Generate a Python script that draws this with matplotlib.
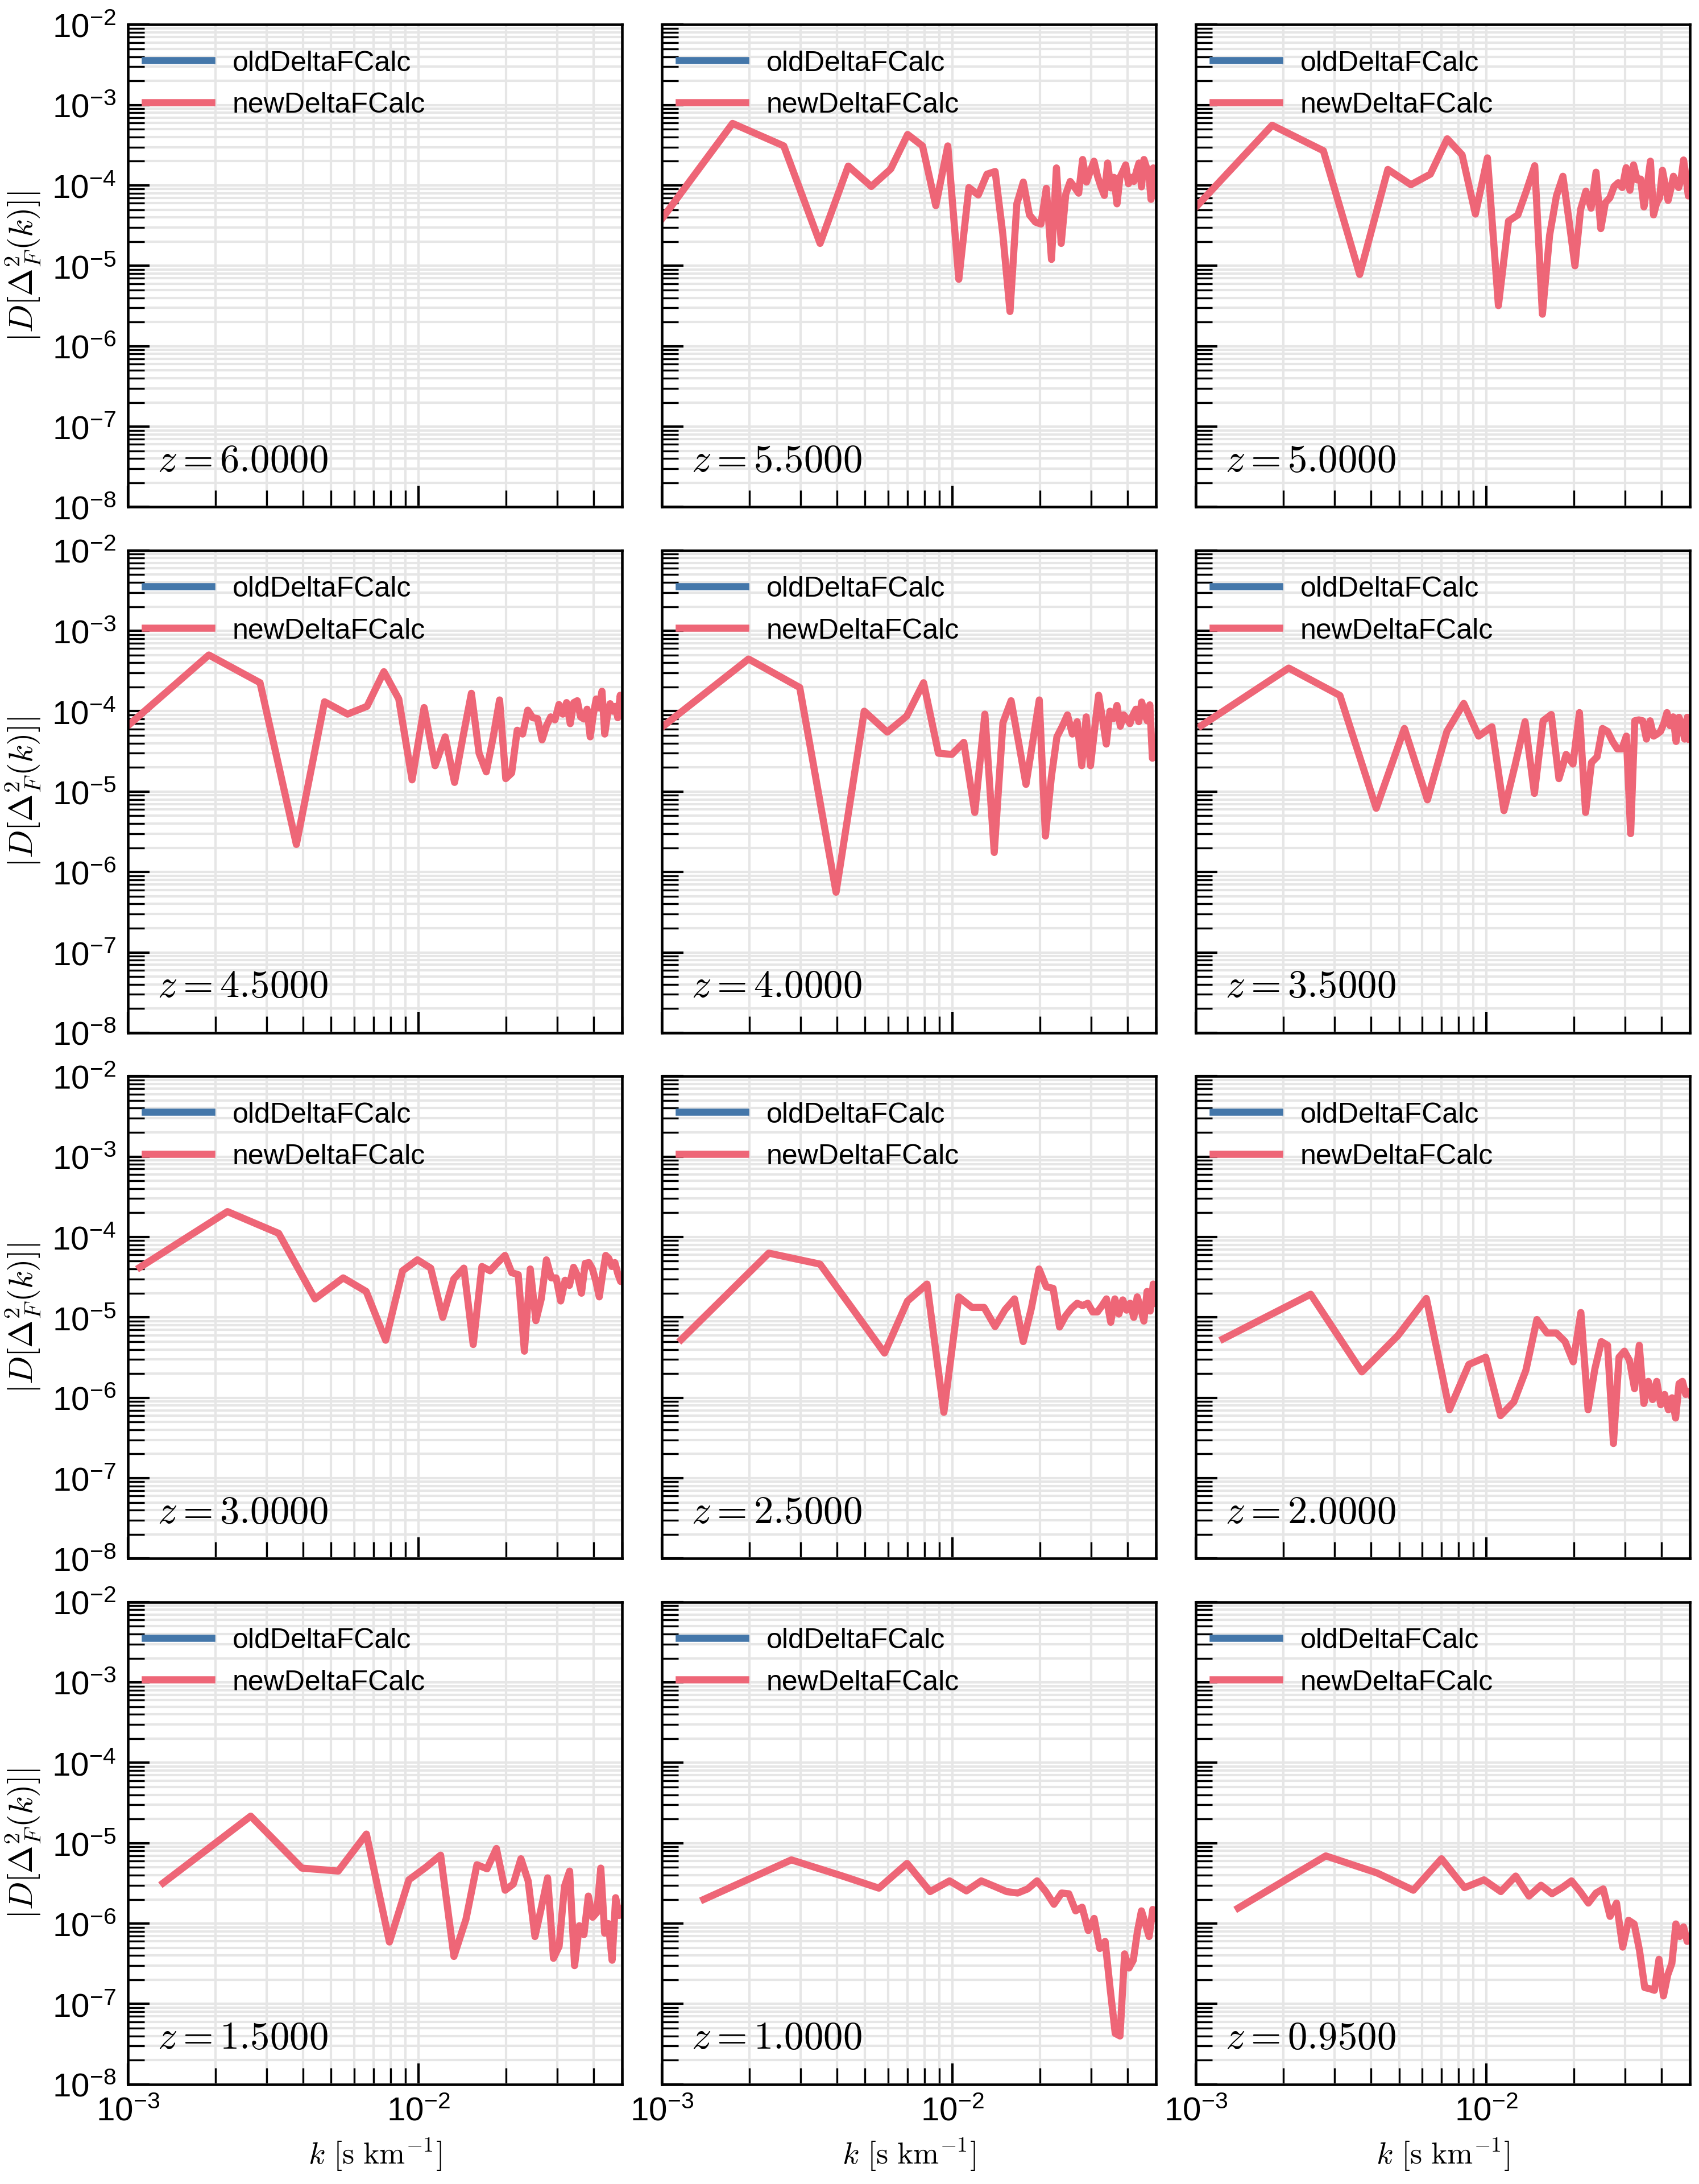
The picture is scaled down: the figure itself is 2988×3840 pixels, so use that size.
import numpy as np
import matplotlib
matplotlib.use('Agg')
import matplotlib.pyplot as plt
from matplotlib.ticker import LogLocator

plt.rcParams['font.family'] = ['Liberation Sans', 'DejaVu Sans']
plt.rcParams['mathtext.fontset'] = 'cm'

redshifts = [6.0, 5.5, 5.0, 4.5, 4.0, 3.5, 3.0, 2.5, 2.0, 1.5, 1.0, 0.95]

# fundamental mode of each snapshot [s/km]; the points sit at k = n*dk
dk = [0.0, 0.875e-3, 0.915e-3, 0.949e-3, 0.993e-3, 1.043e-3,
      1.100e-3, 1.166e-3, 1.241e-3, 1.322e-3, 1.394e-3, 1.399e-3]

# |D[Delta^2_F]| of newDeltaFCalc, one value per mode n=1,2,...
new_60 = []
new_55 = [2.0e-5, 5.9e-4, 3.1e-4, 1.9e-5, 1.74e-4, 9.7e-5, 1.6e-4, 4.3e-4, 3.1e-4, 5.6e-5,
          3.1e-4, 6.8e-6, 9.4e-5, 7.6e-5, 1.38e-4, 1.49e-4, 2.5e-5, 2.7e-6, 5.9e-5, 1.1e-4,
          4.3e-5, 3.5e-5, 3.3e-5, 9.2e-5, 1.2e-5, 1.65e-4, 1.9e-5, 7.8e-5, 1.12e-4, 9.5e-5,
          8.0e-5, 2.1e-4, 1.1e-4, 1.5e-4, 2.0e-4, 1.3e-4, 9.6e-5, 7.5e-5, 1.9e-4, 9.3e-5,
          1.26e-4, 5.9e-5, 1.26e-4, 1.5e-4, 1.8e-4, 1.05e-4, 1.26e-4, 1.12e-4, 1.5e-4, 1.9e-4,
          9.6e-5, 2.1e-4, 1.7e-4, 1.45e-4, 6.7e-5, 1.65e-4, 1.0e-4]
new_50 = [3.8e-5, 5.6e-4, 2.7e-4, 7.8e-6, 1.58e-4, 1.02e-4, 1.38e-4, 3.8e-4, 2.4e-4, 4.4e-5,
          2.2e-4, 3.2e-6, 3.6e-5, 4.3e-5, 8.7e-5, 1.76e-4, 2.5e-6, 2.4e-5, 7.4e-5, 1.3e-4,
          3.6e-5, 1.0e-5, 5.0e-5, 8.5e-5, 5.2e-5, 1.46e-4, 2.9e-5, 6.1e-5, 7.0e-5, 9.7e-5,
          1.08e-4, 9.4e-5, 1.66e-4, 8.7e-5, 1.8e-4, 1.17e-4, 1.2e-4, 5.4e-5, 1.0e-4, 2.0e-4,
          4.3e-5, 6.0e-5, 7.0e-5, 1.54e-4, 1.0e-4, 6.5e-5, 9.0e-5, 1.3e-4, 1.1e-4, 9.4e-5,
          1.2e-4, 2.07e-4, 1.3e-4, 7.4e-5, 1.0e-4]
new_45 = [5.6e-5, 5.0e-4, 2.26e-4, 2.2e-6, 1.31e-4, 9.2e-5, 1.15e-4, 3.1e-4, 1.42e-4, 1.4e-5,
          1.11e-4, 2.1e-5, 4.8e-5, 1.3e-5, 5.0e-5, 1.67e-4, 3.0e-5, 1.76e-5, 4.7e-5, 1.38e-4,
          1.45e-5, 1.7e-5, 5.8e-5, 5.2e-5, 1.03e-4, 8.3e-5, 8.1e-5, 4.4e-5, 6.6e-5, 8.5e-5,
          7.8e-5, 1.21e-4, 9.2e-5, 1.28e-4, 7.0e-5, 1.28e-4, 1.35e-4, 8.5e-5, 8.0e-5, 1.06e-4,
          4.8e-5, 9.0e-5, 1.42e-4, 1.1e-4, 1.77e-4, 5.2e-5, 9.0e-5, 1.24e-4, 1.0e-4, 1.15e-4,
          8.3e-5, 1.58e-4, 9.0e-5]
new_40 = [6.2e-5, 4.46e-4, 1.97e-4, 5.6e-7, 1.0e-4, 5.5e-5, 8.7e-5, 2.26e-4, 3.0e-5, 2.9e-5,
          4.1e-5, 5.5e-6, 9.2e-5, 1.75e-6, 7.2e-5, 1.35e-4, 4.0e-5, 1.23e-5, 4.2e-5, 1.38e-4,
          2.8e-6, 1.5e-5, 4.8e-5, 6.5e-5, 9.0e-5, 5.2e-5, 7.4e-5, 2.1e-5, 8.5e-5, 2.1e-5,
          6.0e-5, 1.58e-4, 8.0e-5, 3.9e-5, 1.0e-4, 8.1e-5, 1.18e-4, 6.5e-5, 9.0e-5, 8.1e-5,
          7.0e-5, 9.0e-5, 1.06e-4, 7.4e-5, 1.3e-4, 9.5e-5, 7.6e-5, 1.2e-4, 2.6e-5, 3.0e-5,
          4.0e-5]
new_35 = [6.6e-5, 3.44e-4, 1.57e-4, 6.2e-6, 6.1e-5, 7.9e-6, 5.6e-5, 1.25e-4, 4.9e-5, 6.4e-5,
          5.8e-6, 2.1e-5, 7.4e-5, 9.5e-6, 7.6e-5, 9.1e-5, 1.45e-5, 2.9e-5, 2.2e-5, 9.6e-5,
          5.5e-6, 2.3e-5, 2.7e-5, 6.1e-5, 5.6e-5, 4.2e-5, 3.4e-5, 3.4e-5, 4.9e-5, 3.0e-6,
          7.6e-5, 7.8e-5, 7.6e-5, 4.5e-5, 7.6e-5, 4.9e-5, 5.2e-5, 5.6e-5, 7.0e-5, 9.6e-5,
          6.6e-5, 8.5e-5, 4.2e-5, 8.4e-5, 6.8e-5, 4.5e-5, 8.4e-5, 4.5e-5]
new_30 = [4.2e-5, 2.07e-4, 1.11e-4, 1.7e-5, 3.1e-5, 2.1e-5, 5.2e-6, 3.8e-5, 5.2e-5, 4.1e-5,
          1.0e-5, 3.0e-5, 4.1e-5, 4.6e-6, 4.3e-5, 3.8e-5, 4.8e-5, 5.9e-5, 3.6e-5, 3.4e-5,
          3.8e-6, 4.0e-5, 9.1e-6, 1.7e-5, 5.2e-5, 3.1e-5, 3.1e-5, 1.6e-5, 2.9e-5, 2.5e-5,
          4.2e-5, 3.3e-5, 2.0e-5, 4.7e-5, 4.8e-5, 4.0e-5, 2.8e-5, 1.8e-5, 3.4e-5, 5.9e-5,
          5.4e-5, 4.3e-5, 4.8e-5, 3.5e-5, 2.8e-5, 3.0e-5]
new_25 = [5.3e-6, 6.3e-5, 4.6e-5, 1.1e-5, 3.6e-6, 1.6e-5, 2.6e-5, 6.6e-7, 1.8e-5, 1.33e-5,
          1.33e-5, 7.7e-6, 1.25e-5, 1.7e-5, 5.0e-6, 1.3e-5, 4.0e-5, 2.4e-5, 2.3e-5, 7.6e-6,
          1.05e-5, 1.3e-5, 1.5e-5, 1.4e-5, 1.5e-5, 1.17e-5, 1.17e-5, 1.4e-5, 1.7e-5, 8.7e-6,
          1.7e-5, 1.1e-5, 1.65e-5, 1.23e-5, 1.5e-5, 1.0e-5, 1.8e-5, 1.3e-5, 9.0e-6, 2.1e-5,
          1.2e-5, 2.6e-5, 1.5e-5]
new_20 = [5.4e-6, 1.94e-5, 2.1e-6, 6.0e-6, 1.72e-5, 7.1e-7, 2.6e-6, 3.2e-6, 6.0e-7, 8.9e-7,
          2.2e-6, 9.4e-6, 6.4e-6, 6.4e-6, 5.0e-6, 2.8e-6, 1.15e-5, 7.1e-7, 2.3e-6, 5.0e-6,
          4.5e-6, 2.7e-7, 3.2e-6, 3.8e-6, 2.9e-6, 1.3e-6, 4.5e-6, 8.5e-7, 1.6e-6, 9.5e-7,
          1.6e-6, 8.2e-7, 1.1e-6, 7.1e-7, 1.0e-6, 5.6e-7, 1.5e-6, 1.6e-6, 1.1e-6, 1.2e-6,
          1.0e-6]
new_15 = [3.2e-6, 2.17e-5, 4.9e-6, 4.5e-6, 1.3e-5, 5.9e-7, 3.5e-6, 5.0e-6, 7.1e-6, 3.9e-7,
          1.13e-6, 5.4e-6, 4.8e-6, 8.6e-6, 2.6e-6, 3.1e-6, 6.4e-6, 3.4e-6, 6.9e-7, 1.6e-6,
          3.7e-6, 3.7e-7, 5.2e-7, 2.9e-6, 4.5e-6, 3.0e-7, 9.4e-7, 7.3e-7, 2.2e-6, 1.2e-6,
          1.37e-6, 4.9e-6, 7.6e-7, 1.0e-6, 3.5e-7, 2.1e-6, 1.26e-6, 1.5e-6]
new_10 = [2.0e-6, 6.2e-6, 3.9e-6, 2.76e-6, 5.6e-6, 2.5e-6, 3.4e-6, 2.55e-6, 3.4e-6, 2.9e-6,
          2.5e-6, 2.4e-6, 2.7e-6, 3.4e-6, 2.5e-6, 1.74e-6, 2.4e-6, 2.35e-6, 1.44e-6, 1.6e-6,
          8.2e-7, 1.16e-6, 4.9e-7, 6.0e-7, 1.5e-7, 4.3e-8, 4.0e-8, 4.2e-7, 2.8e-7, 3.5e-7,
          8.0e-7, 1.44e-6, 1.0e-6, 6.9e-7, 1.5e-6, 1.2e-6]
new_095 = [1.56e-6, 6.95e-6, 4.27e-6, 2.6e-6, 6.4e-6, 2.8e-6, 3.5e-6, 2.5e-6, 3.9e-6, 2.2e-6,
           3.0e-6, 2.35e-6, 2.8e-6, 3.4e-6, 2.5e-6, 1.8e-6, 2.4e-6, 2.7e-6, 1.23e-6, 1.8e-6,
           5.1e-7, 1.1e-6, 9.9e-7, 4.6e-7, 1.6e-7, 1.55e-7, 1.48e-7, 3.6e-7, 1.26e-7, 2.3e-7,
           3.2e-7, 9.9e-7, 6.9e-7, 9.1e-7, 6.0e-7, 7.0e-7]

new_diff = [new_60, new_55, new_50, new_45, new_40, new_35,
            new_30, new_25, new_20, new_15, new_10, new_095]
# oldDeltaFCalc leaves nothing visible on these axes
old_diff = [[] for z in redshifts]

fig, axes = plt.subplots(4, 3, figsize=(9.96, 12.803), sharex=True, sharey=True)
fig.subplots_adjust(left=0.0753, right=0.9946, top=0.9885, bottom=0.0456,
                    wspace=0.081, hspace=0.090)

for i, ax in enumerate(axes.flat):
    row, col = divmod(i, 3)
    y_new = np.array(new_diff[i])
    k_new = dk[i] * np.arange(1, len(y_new) + 1)
    y_old = np.array(old_diff[i])
    k_old = dk[i] * np.arange(1, len(y_old) + 1)
    ax.plot(k_old, y_old, color='#4477AA', lw=3.0, label='oldDeltaFCalc')
    ax.plot(k_new, y_new, color='#EE6677', lw=3.0, label='newDeltaFCalc')
    ax.set_xscale('log')
    ax.set_yscale('log')
    ax.set_xlim(1e-3, 5e-2)
    ax.set_ylim(1e-8, 1e-2)
    ax.yaxis.set_major_locator(LogLocator(base=10, numticks=10))
    ax.yaxis.set_minor_locator(LogLocator(base=10, subs=np.arange(2, 10), numticks=100))
    ax.grid(True, which='both', color='0.9', lw=1.0)
    ax.set_axisbelow(True)
    for s in ax.spines.values():
        s.set_linewidth(1.1)
    ax.tick_params(which='both', direction='in', top=False, right=False)
    ax.tick_params(which='major', length=9, width=1.0, labelsize=14, pad=5)
    ax.tick_params(which='minor', length=7, width=0.8)
    ax.legend(loc='upper left', bbox_to_anchor=(0.011, 0.971), borderaxespad=0,
              frameon=False, fontsize=12, handlelength=2.35, handletextpad=0.73,
              labelspacing=0.55)
    ax.text(0.06, 0.075, r'$z = %.4f$' % redshifts[i], transform=ax.transAxes,
            fontsize=16.5, va='baseline')
    if col == 0:
        ax.set_ylabel(r'$|D[\Delta^2_F(k)]|$', fontsize=14)
    if row == 3:
        ax.set_xlabel(r'$k\ [\mathrm{s\ km^{-1}}]$', fontsize=13)

plt.savefig('out.png', dpi=300)
